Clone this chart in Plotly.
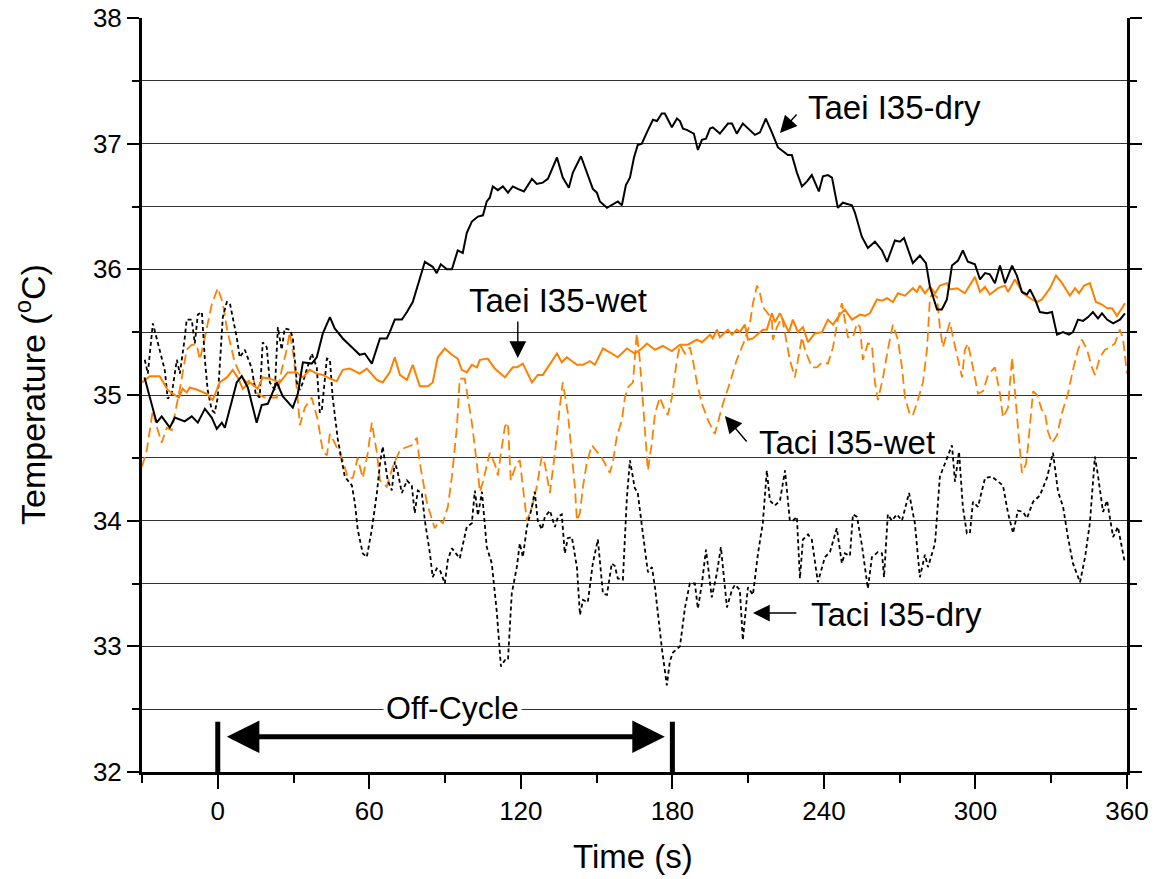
import plotly.graph_objects as go

# ---- data: (time s, temperature C) ----
taei_dry = [(-29,35.14),(-24.2,34.78),(-22.2,34.83),(-19,34.74),(-17,34.82),(-13.1,34.79),(-10.3,34.83),(-7.9,34.78),(-5.1,34.89),(-2.4,34.82),
(-0.4,34.73),(1.6,34.78),(2.8,34.74),(4.8,34.90),(7.5,35.10),(9.5,35.15),(11.9,35.06),(15.4,34.78),(17.4,34.92),(19.8,34.93),
(23.4,35.10),(25.7,34.99),(29.7,34.90),(31.7,35.01),(33.7,35.26),(37.2,35.25),(39.2,35.30),(41.6,35.49),(44.4,35.62),(46.3,35.53),
(49.5,35.45),(53.1,35.38),(56.2,35.32),(58.2,35.33),(61,35.25),(64.2,35.45),(66.9,35.45),(68.1,35.50),(70.1,35.60),(72.9,35.60),
(74.9,35.66),(77.2,35.74),(80,35.92),(82,36.06),(85.1,36.02),(86.7,35.97),(88.3,36.04),(90.7,36.00),(92.7,36.00),(95,36.15),
(97,36.13),(98.6,36.29),(100.6,36.38),(103,36.42),(105,36.43),(106.5,36.54),(107.7,36.57),(108.9,36.66),(110.9,36.63),(112.9,36.66),
(114.9,36.61),(116.8,36.66),(118.8,36.64),(121.2,36.62),(124.4,36.72),(126.3,36.68),(128.7,36.69),(130.7,36.72),(134.3,36.89),(136.6,36.73),
(139,36.65),(140.6,36.77),(143.8,36.90),(146.1,36.77),(148.5,36.64),(150.1,36.61),(151.3,36.54),(154.1,36.49),(156,36.51),(158.4,36.54),
(160,36.51),(161.6,36.67),(163.2,36.73),(164.8,36.89),(166.3,36.99),(167.9,37.00),(169.9,37.09),(172.3,37.19),(173.9,37.18),(175.8,37.24),
(177,37.24),(179.8,37.13),(181.8,37.20),(183,37.18),(184.2,37.12),(185.7,37.11),(188.5,37.08),(190.1,36.95),(191.7,37.03),(193.3,37.04),
(194.9,37.12),(196,37.13),(198.8,37.08),(202,37.16),(203.6,37.16),(205.5,37.08),(207.9,37.16),(209.9,37.12),(212.7,37.07),(214.7,37.09),
(217,37.20),(219.4,37.09),(221.8,36.97),(223.8,36.94),(225.7,36.91),(227.3,36.91),(229.3,36.77),(231.3,36.66),(233.3,36.70),(235.2,36.75),
(238,36.62),(239.6,36.74),(241.6,36.75),(243.2,36.73),(245.5,36.49),(247.5,36.53),(251.1,36.51),(252.3,36.45),(255,36.26),(257.4,36.17),
(260.2,36.22),(263,36.15),(265,36.06),(268.1,36.23),(270.1,36.22),(271.7,36.25),(275.2,36.05),(278,36.11),(280.4,36.05),(282,35.86),
(284.8,35.68),(286.7,35.68),(288.7,35.76),(290.7,36.03),(293.1,36.07),(295,36.15),(297,36.06),(299.8,36.04),(301.8,35.92),(303.8,35.97),
(305.7,35.96),(307.7,35.89),(309.7,36.03),(311.7,35.89),(314.5,36.03),(316.4,35.95),(318.4,35.82),(320.4,35.80),(321.6,35.84),(323.6,35.76),
(325.5,35.66),(328.3,35.65),(330.3,35.66),(332.3,35.48),(334.7,35.50),(337,35.48),(338.6,35.50),(340.6,35.60),(342.6,35.59),(344.6,35.62),
(346.5,35.66),(348.5,35.61),(350.1,35.65),(352.1,35.60),(354.5,35.57),(357.2,35.60),(359.2,35.65)]

taei_wet = [(-30,35.10),(-26.9,35.15),(-23,35.15),(-19.8,35.04),(-17.8,35.01),(-15.4,34.98),(-13.9,35.05),(-12.3,35.02),(-11.1,35.06),(-7.9,35.04),
(-4.4,35.01),(-2,34.96),(0.8,35.10),(3.6,35.14),(5.9,35.20),(7.9,35.14),(9.9,35.05),(12.7,35.10),(15.8,35.05),(17.8,35.14),
(20.6,35.13),(24.6,35.10),(27.7,35.18),(31.3,35.18),(33.7,35.14),(36.4,35.20),(39.2,35.17),(41.6,35.16),(44.4,35.13),(47.1,35.11),
(49.5,35.20),(52.3,35.21),(56.2,35.17),(59,35.21),(63,35.12),(65.3,35.10),(68.1,35.18),(70.1,35.30),(72.1,35.16),(74.9,35.12),
(77.2,35.24),(80,35.07),(83.2,35.07),(85.1,35.10),(87.1,35.30),(89.9,35.37),(92.7,35.32),(95,35.29),(96.6,35.20),(98.6,35.18),
(100.6,35.24),(102.6,35.22),(103.8,35.28),(106.9,35.29),(109.7,35.21),(113.7,35.14),(116.8,35.22),(118.4,35.22),(120.8,35.25),(124.4,35.10),
(126.7,35.16),(128.7,35.16),(134.3,35.33),(136.2,35.26),(138.2,35.30),(142.2,35.24),(144.6,35.24),(147.3,35.27),(149.3,35.24),(152.5,35.37),
(155.2,35.34),(158.4,35.30),(162,35.37),(165.1,35.33),(167.9,35.37),(169.9,35.41),(173.1,35.36),(176.2,35.39),(179.8,35.35),(183,35.40),
(186.1,35.40),(189.7,35.44),(191.7,35.42),(194.9,35.48),(196,35.45),(197.6,35.52),(198.8,35.46),(202,35.52),(203.6,35.48),(205.5,35.52),
(206.7,35.50),(208.7,35.56),(209.9,35.44),(211.9,35.45),(215.8,35.52),(217.4,35.52),(219.4,35.65),(220.6,35.58),(222.6,35.65),(224.6,35.57),
(226.1,35.50),(227.7,35.60),(229.7,35.50),(231.7,35.54),(233.7,35.42),(236.4,35.49),(239.2,35.50),(241.6,35.60),(243.6,35.56),(246.3,35.64),
(248.3,35.68),(251.1,35.60),(254.3,35.64),(256.2,35.63),(258.2,35.65),(261,35.76),(263,35.75),(265,35.77),(267.3,35.74),(269.3,35.81),
(272.1,35.79),(275.2,35.85),(276.8,35.82),(278,35.87),(280,35.81),(282,35.86),(284,35.81),(285.9,35.87),(288.7,35.89),(289.9,35.84),
(292.7,35.85),(295.8,35.81),(299.8,35.94),(301.8,35.82),(303.8,35.86),(305.7,35.80),(308.9,35.85),(311.7,35.87),(312.9,35.82),(315.6,35.92),
(318.8,35.81),(322.4,35.76),(324.4,35.74),(326.3,35.76),(329.5,35.85),(331.9,35.95),(334.3,35.89),(337.4,35.79),(339.4,35.85),(341,35.81),
(343,35.87),(345.3,35.89),(347.7,35.74),(350.1,35.72),(352.1,35.69),(354.1,35.69),(356,35.63),(358,35.69),(359.2,35.73)]

taci_wet = [(-30,34.43),(-28.1,34.56),(-25.7,34.88),(-24.2,34.75),(-22.2,34.62),(-20.2,34.74),(-18.2,34.72),(-15,35.05),(-12.3,35.36),(-10.3,35.40),
(-8.3,35.40),(-7.1,35.28),(-5.1,35.46),(-2.4,35.72),(0,35.85),(2,35.73),(3.6,35.53),(6.7,35.26),(9.5,35.14),(11.5,35.10),
(13.9,35.14),(15.8,35.01),(18.6,34.98),(20.6,34.98),(23.4,34.98),(25.3,35.20),(27.3,35.36),(28.5,35.50),(30.1,35.30),(31.7,34.96),
(32.5,34.76),(34.5,34.90),(37.2,34.98),(39.6,34.80),(41.6,34.55),(43.2,34.52),(44.4,34.69),(46.3,34.62),(49.5,34.48),(51.5,34.34),
(53.5,34.34),(55.4,34.50),(57.4,34.34),(59.4,34.54),(61,34.78),(63,34.54),(64.2,34.32),(66.9,34.27),(69.3,34.43),(72.1,34.56),
(74.1,34.58),(76.8,34.60),(78.8,34.66),(80,34.46),(82.8,34.14),(85.9,33.94),(87.9,34.00),(89.1,33.98),(91.1,34.11),(92.7,34.35),
(94.7,34.75),(95.8,35.13),(97.8,35.13),(99,34.98),(100.6,34.78),(102.6,34.45),(103.8,34.23),(105,34.31),(106.5,34.43),(107.7,34.54),
(109.7,34.45),(110.9,34.36),(112.5,34.59),(113.7,34.75),(114.9,34.78),(116,34.32),(118.4,34.46),(119.6,34.48),(120.8,34.27),(122.4,34.00),
(124.4,34.11),(126.3,34.27),(128.3,34.51),(129.5,34.45),(131.5,34.22),(133.5,34.54),(135.4,34.90),(136.6,35.10),(138.6,34.86),(140.2,34.50),
(141.4,34.27),(142.2,34.00),(143.4,34.06),(144.6,34.27),(146.1,34.46),(148.1,34.60),(150.1,34.55),(152.1,34.50),(155.2,34.38),(156.4,34.46),
(158,34.67),(160,34.80),(161.2,34.98),(162.4,35.06),(164.4,35.10),(165.9,35.49),(167.1,35.28),(168.3,34.96),(169.9,34.55),(170.3,34.40),
(171.9,34.62),(173.1,34.85),(175,34.98),(177,34.88),(178.2,34.84),(179.8,34.98),(181.8,35.28),(183,35.40),(185,35.33),(186.9,35.38),
(188.1,35.28),(189.7,35.10),(191.7,34.93),(194.1,34.80),(196.8,34.69),(198,34.78),(200,34.93),(202.8,35.10),(205.5,35.28),(208.7,35.44),
(210.7,35.57),(211.9,35.73),(213.5,35.87),(214.7,35.81),(215.8,35.70),(217.4,35.66),(219.4,35.60),(219.8,35.44),(221.4,35.54),(223.4,35.62),
(224.6,35.48),(226.5,35.28),(228.5,35.14),(229.7,35.28),(231.3,35.46),(232.5,35.36),(235.2,35.22),(237.2,35.22),(239.2,35.26),(241.6,35.25),
(243.6,35.38),(245.5,35.60),(247.1,35.73),(249.5,35.46),(251.5,35.46),(253.1,35.57),(254.3,35.54),(255.4,35.28),(257.4,35.41),(259,35.40),
(260.2,35.10),(261.4,34.96),(263.4,35.14),(265.3,35.36),(267.3,35.56),(269.3,35.44),(270.9,35.22),(272.1,34.98),(274.1,34.84),(275.2,34.84),
(277.2,34.96),(279.2,35.10),(280.8,35.36),(282,35.78),(283.2,35.80),(284.8,35.78),(285.9,35.54),(287.1,35.38),(288.7,35.49),(289.9,35.58),
(291.1,35.46),(293.1,35.28),(294.7,35.14),(295.8,35.36),(297,35.41),(299,35.22),(301,35.01),(303,35.03),(305,35.16),(307.7,35.22),
(309.7,35.01),(310.9,34.82),(312.9,34.90),(314.5,35.30),(315.6,35.01),(316.8,34.75),(318.4,34.38),(320,34.45),(320.8,34.59),(322.8,35.03),
(324.4,35.00),(326.3,34.88),(327.5,34.86),(328.7,34.71),(330.3,34.62),(332.3,34.68),(334.3,34.86),(336.6,35.01),(338.6,35.20),(340.6,35.36),
(342.2,35.44),(344.2,35.36),(346.1,35.22),(347.3,35.16),(349.3,35.30),(351.3,35.36),(353.3,35.38),(355.2,35.41),(357.2,35.52),(358.4,35.45),
(360,35.17)]

taci_dry = [(-28.9,35.28),(-27.7,35.17),(-25.7,35.57),(-23,35.36),(-21,35.20),(-19.8,34.97),(-18.2,35.01),(-16.2,35.28),(-15,35.17),(-13.1,35.45),
(-12.3,35.60),(-10.3,35.60),(-9.1,35.41),(-7.9,35.64),(-6.3,35.66),(-5.1,35.28),(-4,35.04),(-2.4,34.88),(-1.2,34.86),(0,34.98),
(2,35.62),(3.6,35.74),(4.8,35.73),(7.5,35.46),(8.7,35.30),(10.7,35.36),(13.5,35.21),(15,35.01),(16.6,34.98),(17.8,35.42),
(19.4,35.38),(20.6,35.10),(22.6,35.04),(23.8,35.54),(25.3,35.36),(26.5,35.53),(28.5,35.52),(29.7,35.46),(31.3,35.10),(32.5,35.04),
(33.7,35.10),(35.2,35.20),(37.2,35.33),(39.2,35.22),(40.4,34.86),(41.2,34.88),(43.2,35.29),(44.4,35.28),(45.5,34.98),(47.5,34.65),
(50.3,34.35),(53.1,34.28),(54.3,34.14),(55.4,33.93),(57.4,33.74),(59,33.71),(61,33.93),(63,34.22),(64.2,34.45),(65.3,34.59),
(67.3,34.32),(68.9,34.24),(70.1,34.47),(71.3,34.38),(72.9,34.22),(74.9,34.32),(76.8,34.28),(78,34.06),(79.2,34.24),(80.8,34.22),
(82,34.00),(84,33.74),(85.1,33.55),(86.7,33.62),(87.9,33.61),(89.9,33.50),(91.1,33.69),(92.7,33.78),(93.9,33.75),(95.8,33.70),
(98.6,33.95),(100.6,33.98),(101.8,34.24),(103,34.04),(104.6,34.23),(106.5,33.79),(108.5,33.66),(110.5,33.27),(112.1,32.84),(113.7,32.89),
(114.9,32.89),(116.4,33.42),(118.4,33.63),(119.6,33.82),(120.8,33.71),(122.4,33.95),(124.4,34.11),(125.5,34.23),(126.7,34.00),(128.3,33.93),
(129.5,34.03),(131.5,34.08),(133.5,33.95),(134.7,34.03),(136.2,34.05),(137.4,33.74),(138.6,33.86),(140.2,33.87),(142.2,33.63),(143.4,33.25),
(144.6,33.37),(146.5,33.35),(148.5,33.66),(150.5,33.85),(152.5,33.42),(154.1,33.41),(156,33.66),(157.2,33.64),(158.4,33.54),(160.4,33.53),
(162,34.19),(163.2,34.48),(165.1,34.26),(166.3,34.22),(168.3,33.90),(170.3,33.59),(171.9,33.63),(173.1,33.47),(175.8,32.99),(177.8,32.69),
(179,32.88),(180.2,32.95),(183,33.00),(185,33.31),(186.9,33.50),(188.9,33.50),(190.1,33.30),(191.7,33.50),(193.3,33.77),(195.6,33.39),
(197.6,33.58),(199.2,33.79),(201.6,33.31),(203.6,33.45),(204.8,33.49),(206.7,33.45),(207.9,33.05),(209.9,33.47),(211.9,33.41),(213.9,33.74),
(215.8,33.98),(217.4,34.40),(218.6,34.16),(220.6,34.12),(222.6,34.16),(224.6,34.40),(226.5,34.00),(227.7,34.00),(229.3,34.03),(230.5,33.54),
(231.7,33.85),(233.7,33.89),(235.2,33.85),(237.6,33.51),(240.4,33.71),(242.4,33.75),(245.1,33.94),(247.1,33.66),(248.3,33.74),(250.3,33.72),
(251.5,34.05),(253.1,34.03),(255,33.81),(256.2,33.63),(257.4,33.46),(259,33.71),(261.4,33.75),(263,33.74),(263.8,33.55),(265.3,34.05),
(266.9,34.00),(268.9,34.05),(270.9,34.00),(273.7,34.22),(276,33.98),(278,33.55),(280,33.73),(281.2,33.63),(284,33.82),(285.9,34.35),
(287.9,34.46),(290.7,34.60),(291.9,34.31),(293.5,34.55),(295,34.11),(296.6,33.90),(297.8,33.90),(299,34.15),(301,34.11),(303.8,34.34),
(306.5,34.35),(308.9,34.31),(310.9,34.28),(312.9,34.06),(314.9,33.90),(316.8,34.08),(318.8,34.07),(320.4,34.02),(322.8,34.15),(325.5,34.20),
(328.3,34.34),(330.7,34.54),(332.7,34.23),(334.7,34.11),(336.6,33.87),(338.6,33.66),(341.4,33.51),(343.4,33.71),(345.3,33.98),(347.3,34.51),
(348.5,34.36),(350.5,34.07),(352.1,34.16),(354.5,33.87),(356.4,33.95),(359.2,33.66)]

x_ticks = [0, 60, 120, 180, 240, 300, 360]
x_minor = [-30, 30, 90, 150, 210, 270, 330]
off_cycle = [0, 180]

FONT = "Liberation Sans, Arial, sans-serif"
ORANGE = "#FF8000"

fig = go.Figure()

def add(series, color, dash, width):
    t = [p[0] for p in series]
    v = [p[1] for p in series]
    fig.add_trace(go.Scatter(x=t, y=v, mode="lines", showlegend=False,
                             line=dict(color=color, dash=dash, width=width)))

add(taci_wet, ORANGE, "10px,5px", 1.8)
add(taci_dry, "black", "4px,3px", 1.8)
add(taei_wet, ORANGE, "solid", 2)
add(taei_dry, "black", "solid", 2)

# off-cycle markers
for t in off_cycle:
    fig.add_shape(type="line", x0=t, x1=t, y0=32, y1=32.4, xref="x", yref="y",
                  line=dict(color="black", width=5))

annos = []
# double arrow
annos.append(dict(x=off_cycle[1]-3, y=32.28, ax=off_cycle[0]+3, ay=32.28, xref="x", yref="y",
                  axref="x", ayref="y", text="", showarrow=True, arrowhead=2,
                  arrowside="end+start", arrowwidth=5, arrowsize=1.3, arrowcolor="black"))
annos.append(dict(x=93, y=32.51, xref="x", yref="y", text="Off-Cycle", showarrow=False,
                  bgcolor="white", borderpad=2, font=dict(family=FONT, size=32, color="black")))

labels = [("Taei I35-dry", 268.0, 37.284), ("Taei I35-wet", 134.9, 35.756),
          ("Taci I35-wet", 249.1, 34.626), ("Taci I35-dry", 268.9, 33.257)]
for txt, x, y in labels:
    annos.append(dict(x=x, y=y, xref="x", yref="y", text=txt, showarrow=False,
                      font=dict(family=FONT, size=33, color="black")))

arrows = [((222.6, 37.085), (229.7, 37.244)),
          ((118.8, 35.294), (118.8, 35.597)),
          ((200.8, 34.833), (209.9, 34.618)),
          ((211.9, 33.265), (229.7, 33.265))]
for (hx, hy), (tx, ty) in arrows:
    annos.append(dict(x=hx, y=hy, ax=tx, ay=ty, xref="x", yref="y", axref="x", ayref="y",
                      text="", showarrow=True, arrowhead=2, arrowsize=2.4, arrowwidth=1.4,
                      arrowcolor="black"))

# axis titles
annos.append(dict(x=0.4985, y=-0.1127, xref="paper", yref="paper", text="Time (s)", showarrow=False,
                  xanchor="center", yanchor="middle", font=dict(family=FONT, size=33, color="black")))
annos.append(dict(x=-0.1137, y=0.5, xref="paper", yref="paper", text="Temperature (<sup>o</sup>C)",
                  showarrow=False, textangle=-90, xanchor="center", yanchor="middle",
                  font=dict(family=FONT, size=34, color="black")))

fig.update_layout(
    width=1156, height=879,
    margin=dict(l=142, r=29, t=18, b=107),
    plot_bgcolor="white", paper_bgcolor="white",
    font=dict(family=FONT, color="black"),
    annotations=annos,
    xaxis=dict(range=[-30, 360], tickvals=x_ticks, ticks="outside", ticklen=14, tickwidth=2,
               tickcolor="black", showline=True, linewidth=3, linecolor="black", automargin=False,
               showgrid=False, zeroline=False, tickfont=dict(size=26, family=FONT),
               minor=dict(tickvals=x_minor, ticks="outside", ticklen=8, tickwidth=2, tickcolor="black")),
    yaxis=dict(range=[32, 38], dtick=1, ticks="outside", ticklen=12, tickwidth=2, automargin=False,
               tickcolor="black", showline=True, linewidth=3, linecolor="black", mirror="allticks",
               showgrid=True, gridcolor="#333333", gridwidth=1, zeroline=False,
               tickfont=dict(size=26, family=FONT),
               minor=dict(dtick=0.5, ticks="outside", ticklen=7, tickwidth=2, tickcolor="black",
                          showgrid=True, gridcolor="#333333", gridwidth=1)),
)

fig.write_html("out.html")
